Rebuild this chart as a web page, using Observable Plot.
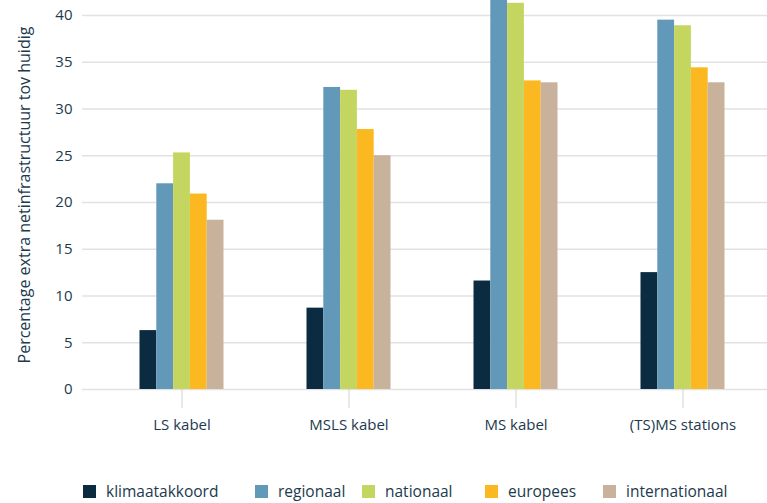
<!DOCTYPE html>
<html>
<head>
<meta charset="utf-8">
<script src="https://cdn.jsdelivr.net/npm/d3@7"></script>
<script src="https://cdn.jsdelivr.net/npm/@observablehq/plot@0.6"></script>
<style>
  html, body { margin: 0; padding: 0; background: #fff; }
  #wrap { position: relative; width: 767px; height: 503px; overflow: hidden; font-family: "Open Sans", Lato, sans-serif; color: #1b3a4e; }
  #legend { position: absolute; left: 0; top: 482px; width: 767px; height: 18px; font-size: 15.5px; line-height: 18px; }
  .item { position: absolute; top: 0; height: 18px; display: flex; align-items: center; white-space: nowrap; }
  .sw { width: 13px; height: 13px; margin-right: 10px; }
</style>
</head>
<body>
<div id="wrap">
  <div id="chart"></div>
  <div id="legend"></div>
</div>
<script>
const categories = ["LS kabel", "MSLS kabel", "MS kabel", "(TS)MS stations"];
const seriesNames = ["klimaatakkoord", "regionaal", "nationaal", "europees", "internationaal"];
const klimaatakkoord = [6.3, 8.7, 11.6, 12.5];
const regionaal = [22.0, 32.3, 42.5, 39.5];
const nationaal = [25.3, 32.0, 41.3, 38.9];
const europees = [20.9, 27.8, 33.0, 34.4];
const internationaal = [18.1, 25.0, 32.8, 32.8];
const yTicks = [0, 5, 10, 15, 20, 25, 30, 35, 40];
const yLabel = "Percentage extra netinfrastructuur tov huidig";
const colors = ["#0b2c40", "#6399b8", "#c5d660", "#fbb820", "#c8b29b"];

const seriesValues = [klimaatakkoord, regionaal, nationaal, europees, internationaal];
const rows = [];
seriesNames.forEach((s, i) => categories.forEach((c, j) => rows.push({series: s, category: c, value: seriesValues[i][j]})));

const step = 167, barW = 16.8;
const barMarks = seriesNames.map((s, i) => {
  const left = step / 2 - (barW * 5) / 2 + barW * i;
  return Plot.barY(rows.filter(d => d.series === s), {
    x: "category", y: "value", fill: colors[i],
    insetLeft: left, insetRight: step - left - barW, clip: true
  });
});

const chart = Plot.plot({
  width: 767,
  height: 450,
  marginTop: 0,
  marginLeft: 82,
  marginRight: 0,
  marginBottom: 61,
  style: {fontFamily: "'Open Sans', Lato, sans-serif", fontSize: "15px", color: "#1b3a4e", background: "#fff"},
  x: {type: "band", domain: categories, range: [98, 766], padding: 0},
  y: {domain: [0, 41.6]},
  marks: [
    Plot.ruleY(yTicks, {stroke: "#e2e2e2", strokeWidth: 1.5}),
    ...barMarks,
    Plot.axisX({tickSize: 19, tickPadding: 11, fontSize: 15, stroke: "#d4d4d4", fill: "#1b3a4e", label: null}),
    Plot.axisY({ticks: yTicks, tickSize: 0, tickPadding: 10, fontSize: 15, fill: "#1b3a4e",
                label: yLabel, labelAnchor: "center", labelOffset: 64, labelArrow: "none"})
  ]
});
document.getElementById("chart").appendChild(chart);
chart.querySelectorAll('g[aria-label="y-axis label"] text').forEach(t => t.setAttribute("font-size", "16"));

const legendX = [83, 255, 362, 485, 603];
const legend = document.getElementById("legend");
seriesNames.forEach((s, i) => {
  const it = document.createElement("div");
  it.className = "item";
  it.style.left = legendX[i] + "px";
  const sw = document.createElement("div");
  sw.className = "sw";
  sw.style.background = colors[i];
  const t = document.createElement("span");
  t.textContent = s;
  it.appendChild(sw); it.appendChild(t);
  legend.appendChild(it);
});
</script>
</body>
</html>
